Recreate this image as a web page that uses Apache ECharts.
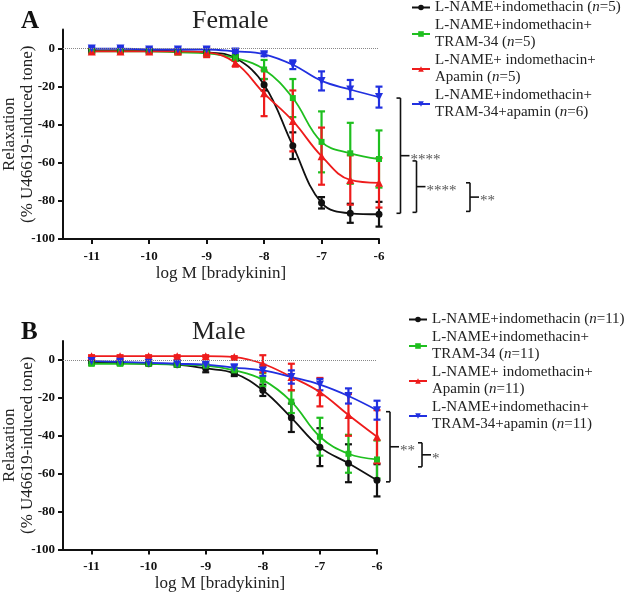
<!DOCTYPE html>
<html>
<head>
<meta charset="utf-8">
<title>Bradykinin relaxation</title>
<script src="https://cdn.jsdelivr.net/npm/echarts@6.0.0/dist/echarts.min.js"></script>
<style>
html,body{margin:0;padding:0;background:#fff;}
#chart{width:630px;height:594px;}
</style>
</head>
<body>
<div id="chart"></div>
<script>
// log M [bradykinin]
var logConc = [-11,-10.5,-10,-9.5,-9,-8.5,-8,-7.5,-7,-6.5,-6];
var xTicks = [-11,-10,-9,-8,-7,-6];
var yTicks = [-100,-80,-60,-40,-20,0];

// A - Female, mean / SEM
var fIndo      = [-1,-1,-1,-1.5,-2,-5,-19,-51,-81,-86.5,-87];
var fIndoErr   = [1,1,1,1,1,1.5,3,7,3,5,6.5];
var fTram      = [-1.5,-1.5,-1.5,-2,-2.5,-5,-11,-26,-49,-55,-58];
var fTramErr   = [1,1,1,1,1,1.5,5,10,16,16,15];
var fApa       = [-1.5,-1.5,-1.5,-1.5,-2,-7.5,-23.5,-38,-56.5,-69,-70.5];
var fApaErr    = [1,1,1,1,2.5,2,12,16,15,13,13];
var fBoth      = [0,0,-0.5,-0.5,-0.5,-1.5,-3,-8.5,-17,-21.5,-25.5];
var fBothErr   = [1,1,1,1,1,0.8,1,2.3,5,5,5.5];

// B - Male, mean / SEM
var mIndo      = [-1,-1.5,-2,-2.5,-4.5,-7,-16,-30.5,-46,-54.5,-63.5];
var mIndoErr   = [0.8,0.8,0.8,1,2,1.5,3,7.5,10,10,8.5];
var mTram      = [-2,-2,-2,-2.5,-3,-5.5,-10.5,-22,-40.5,-49.5,-52.5];
var mTramErr   = [0.8,0.8,0.8,1,1,1.5,3.5,6,10,10,10];
var mApa       = [2,2,2,2,2,1.5,-2,-9,-17,-29,-40.5];
var mApaErr    = [0.5,0.5,0.5,0.5,0.5,0.5,4.5,7,7.5,11,14];
var mBoth      = [-0.5,-1,-1.5,-2,-2.5,-4,-5.5,-9,-13,-19,-26.5];
var mBothErr   = [0.8,0.8,0.8,0.8,1,1.5,3,3.5,3,4,5];

var namesA = ['L-NAME+indomethacin (n=5)','L-NAME+indomethacin+\nTRAM-34 (n=5)','L-NAME+ indomethacin+\nApamin (n=5)','L-NAME+indomethacin+\nTRAM-34+apamin (n=6)'];
var namesB = ['L-NAME+indomethacin (n=11)','L-NAME+indomethacin+\nTRAM-34 (n=11)','L-NAME+ indomethacin+\nApamin (n=11)','L-NAME+indomethacin+\nTRAM-34+apamin (n=11)'];

// significance brackets at the last dose [top, bottom]
var sigA = [[-26,-86.5],[-59,-86],[-70.5,-85.5]];
var sigALabels = ['****','****','**'];
var sigB = [[-27.3,-64.3],[-43.7,-56.4]];
var sigBLabels = ['**','*'];

var FONT = 'Liberation Serif';
var colors = ['#111111','#1fbf1f','#ee1c1c','#2130e0'];

function lineSeries(name, vals, color, symbol, size, rotate, gi){
	return {
		name: name, type: 'line', xAxisIndex: gi, yAxisIndex: gi,
		data: logConc.map(function(x,i){ return [x, vals[i]]; }),
		smooth: 0.4,
		symbol: symbol, symbolSize: size, symbolRotate: rotate,
		lineStyle: {color: color, width: 1.8},
		itemStyle: {color: color},
		z: 4
	};
}

function errSeries(vals, err, color, gi){
	return {
		type: 'custom', xAxisIndex: gi, yAxisIndex: gi, z: 3,
		data: logConc.map(function(x,i){ return [x, vals[i]-err[i], vals[i]+err[i]]; }),
		encode: {x: 0, y: [1,2]},
		renderItem: function(params, api){
			var x = api.value(0);
			var p1 = api.coord([x, api.value(2)]);
			var p2 = api.coord([x, api.value(1)]);
			var w = 3.5;
			var st = {stroke: color, lineWidth: 2.2};
			return {type: 'group', children: [
				{type: 'line', shape: {x1: p1[0], y1: p1[1], x2: p2[0], y2: p2[1]}, style: st},
				{type: 'line', shape: {x1: p1[0]-w, y1: p1[1], x2: p1[0]+w, y2: p1[1]}, style: st},
				{type: 'line', shape: {x1: p2[0]-w, y1: p2[1], x2: p2[0]+w, y2: p2[1]}, style: st}
			]};
		}
	};
}

// brackets drawn from data values, offsets are px right of the last dose
function bracketSeries(sig, labels, offsets, gi){
	var xLast = logConc[logConc.length-1];
	return {
		type: 'custom', xAxisIndex: gi, yAxisIndex: gi, clip: false, silent: true,
		data: sig.map(function(s,i){ return [xLast, s[0], s[1], i]; }),
		encode: {x: 0, y: [1,2]},
		renderItem: function(params, api){
			var i = api.value(3);
			var top = api.coord([api.value(0), api.value(1)]);
			var bot = api.coord([api.value(0), api.value(2)]);
			var bx = top[0] + offsets[i];
			var my = (top[1] + bot[1]) / 2;
			var st = {stroke: '#111', lineWidth: 1.6};
			return {type: 'group', children: [
				{type: 'line', shape: {x1: bx, y1: top[1], x2: bx, y2: bot[1]}, style: st},
				{type: 'line', shape: {x1: bx-4, y1: top[1], x2: bx, y2: top[1]}, style: st},
				{type: 'line', shape: {x1: bx-4, y1: bot[1], x2: bx, y2: bot[1]}, style: st},
				{type: 'line', shape: {x1: bx, y1: my, x2: bx+9, y2: my}, style: st},
				{type: 'text', style: {text: labels[i], x: bx+10, y: my+4, fill: '#555',
					font: '15px "' + FONT + '"', verticalAlign: 'middle', align: 'left'}}
			]};
		}
	};
}

function xAxisCfg(gi){
	return {
		type: 'value', gridIndex: gi, min: -11.5, max: -6,
		name: 'log M [bradykinin]', nameLocation: 'middle', nameGap: 26, nameMoveOverlap: false,
		nameTextStyle: {fontFamily: FONT, fontSize: 17, color: '#222'},
		axisLine: {onZero: false, lineStyle: {color: '#111', width: 2}},
		axisTick: {customValues: xTicks, length: 5, lineStyle: {color: '#111', width: 2}},
		axisLabel: {customValues: xTicks, margin: 11, fontFamily: FONT, fontWeight: 'bold', fontSize: 13, color: '#111'},
		splitLine: {show: false}
	};
}

function yAxisCfg(gi){
	return {
		type: 'value', gridIndex: gi, min: -100, max: 10,
		name: 'Relaxation\n(% U46619-induced tone)', nameLocation: 'middle', nameGap: 26, nameRotate: 90,
		nameMoveOverlap: false,
		nameTextStyle: {fontFamily: FONT, fontSize: 17, lineHeight: 18, color: '#222'},
		axisLine: {onZero: false, lineStyle: {color: '#111', width: 2}},
		axisTick: {customValues: yTicks, length: 5, lineStyle: {color: '#111', width: 2}},
		axisLabel: {customValues: yTicks, margin: 8, fontFamily: FONT, fontWeight: 'bold', fontSize: 13, color: '#111'},
		splitLine: {show: false}
	};
}

function legendCfg(names, left, top){
	return {
		data: names, orient: 'vertical', left: left, top: top, padding: 0, itemGap: 1,
		itemWidth: 18, itemHeight: 7, selectedMode: false,
		textStyle: {fontFamily: FONT, fontSize: 15, lineHeight: 17, color: '#222',
			rich: {i: {fontFamily: FONT, fontSize: 15, lineHeight: 17, fontStyle: 'italic', color: '#222'}}},
		formatter: function(name){ return name.replace('(n=', '({i|n}='); }
	};
}

function zeroLine(){
	return {silent: true, symbol: 'none', label: {show: false},
		lineStyle: {color: '#888', type: 'dotted', width: 1}, data: [{yAxis: 0}]};
}

function initChart(){
	var myChart = echarts.init(document.getElementById('chart'), null, {renderer: 'canvas'});
	var sets = [
		[fIndo, fIndoErr, fTram, fTramErr, fApa, fApaErr, fBoth, fBothErr],
		[mIndo, mIndoErr, mTram, mTramErr, mApa, mApaErr, mBoth, mBothErr]
	];
	var names = [namesA, namesB];
	var symbols = ['circle','rect','triangle','triangle'];
	var sizes = [7,6,8,8];
	var rotates = [0,0,0,180];
	var series = [];
	for(var g=0; g<2; g++){
		for(var k=0; k<4; k++){
			series.push(errSeries(sets[g][k*2], sets[g][k*2+1], colors[k], g));
		}
		for(var k=0; k<4; k++){
			var s = lineSeries(names[g][k], sets[g][k*2], colors[k], symbols[k], sizes[k], rotates[k], g);
			if(k==0) s.markLine = zeroLine();
			series.push(s);
		}
	}
	series.push(bracketSeries(sigA, sigALabels, [21.5, 37.5, 91], 0));
	series.push(bracketSeries(sigB, sigBLabels, [13, 45], 1));

	var option = {
		animation: false,
		backgroundColor: '#fff',
		title: [
			{text: 'A', left: 16, top: 4, textStyle: {fontFamily: FONT, fontWeight: 'bold', fontSize: 25, color: '#111'}},
			{text: 'Female', left: 187, top: 3, textStyle: {fontFamily: FONT, fontWeight: 'normal', fontSize: 26, color: '#222'}},
			{text: 'B', left: 16, top: 315, textStyle: {fontFamily: FONT, fontWeight: 'bold', fontSize: 25, color: '#111'}},
			{text: 'Male', left: 187, top: 314, textStyle: {fontFamily: FONT, fontWeight: 'normal', fontSize: 26, color: '#222'}}
		],
		legend: [legendCfg(namesA, 411, -1), legendCfg(namesB, 408, 311)],
		grid: [
			{left: 63, top: 29.5, width: 316, height: 209.5, outerBoundsMode: 'none'},
			{left: 63, top: 341, width: 314, height: 208.5, outerBoundsMode: 'none'}
		],
		xAxis: [xAxisCfg(0), xAxisCfg(1)],
		yAxis: [yAxisCfg(0), yAxisCfg(1)],
		series: series
	};
	myChart.setOption(option);
}

initChart();
</script>
</body>
</html>
